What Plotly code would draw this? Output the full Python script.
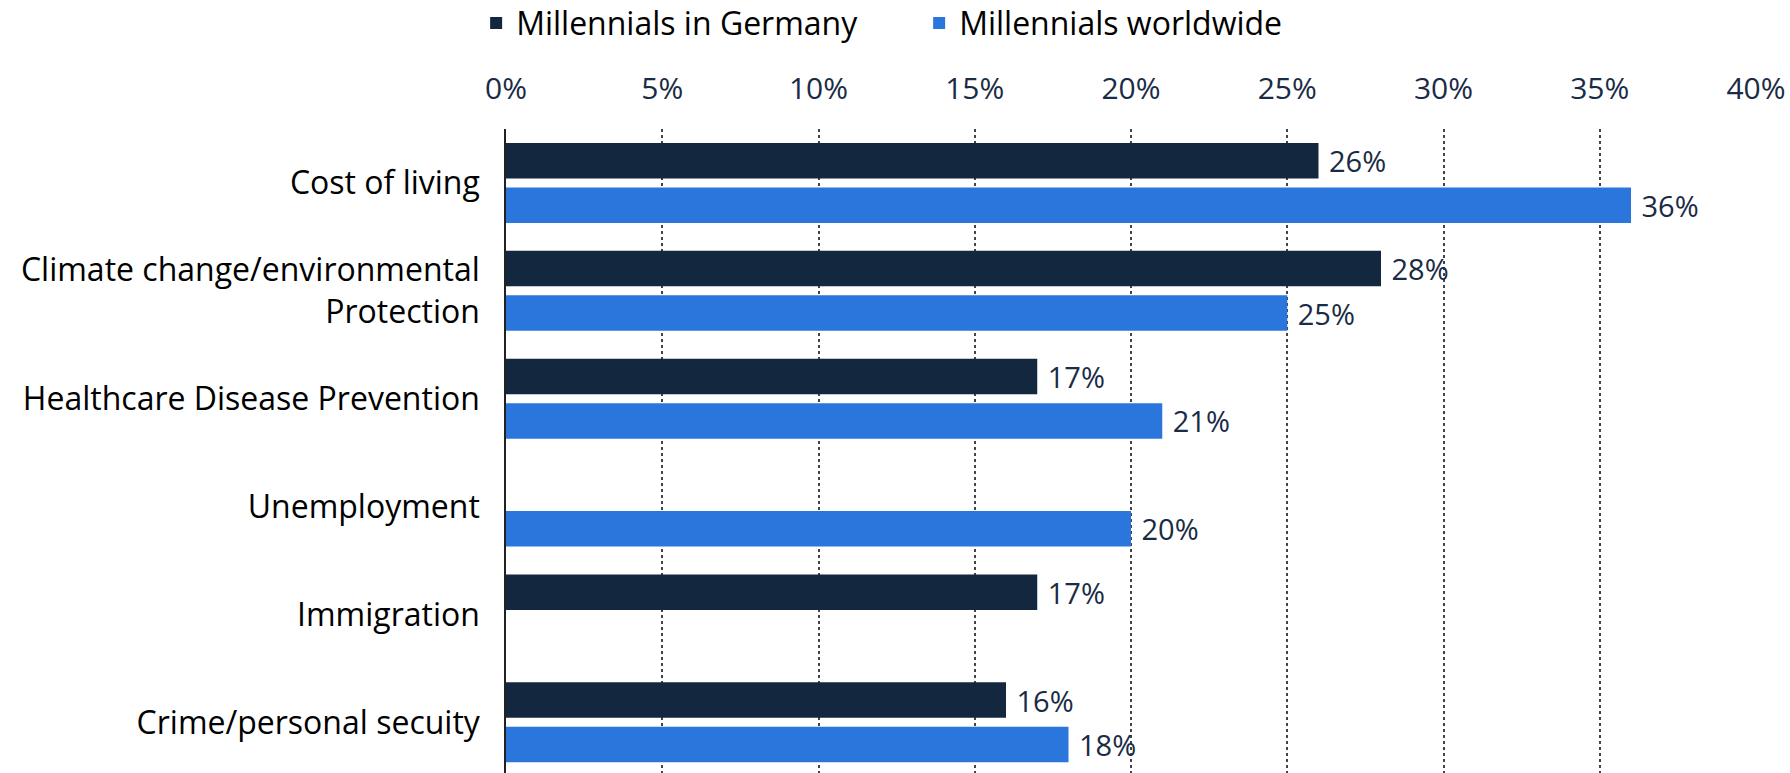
import plotly.graph_objects as go

# Survey categories (top to bottom) and share of respondents per group
categories = [
    "Cost of living",
    "Climate change/environmental<br>Protection",
    "Healthcare Disease Prevention",
    "Unemployment",
    "Immigration",
    "Crime/personal secuity",
]
germany = [26, 28, 17, None, 17, 16]
worldwide = [36, 25, 21, 20, None, 18]

series_names = ["Millennials in Germany", "Millennials worldwide"]
colors = ["#13273f", "#2a76dc"]

FONT = "Open Sans"
LABEL_COLOR = "#1a2b45"

fig = go.Figure()
for name, vals, col in zip(series_names, [germany, worldwide], colors):
    fig.add_trace(go.Bar(
        name=name,
        y=categories,
        x=vals,
        orientation="h",
        marker=dict(color=col, line=dict(width=0)),
        text=[("\u00a0%d%%" % v) if v is not None else "" for v in vals],
        textposition="outside",
        constraintext="none",
        textfont=dict(family=FONT, size=29, color=LABEL_COLOR),
        cliponaxis=False,
        hoverinfo="skip",
    ))

fig.update_layout(
    width=1790,
    height=773,
    margin=dict(l=506, r=34, t=129, b=0),
    paper_bgcolor="white",
    plot_bgcolor="white",
    barmode="group",
    bargap=0.175,
    bargroupgap=0.2,
    showlegend=True,
    legend=dict(
        orientation="h",
        x=0.266, xanchor="left", xref="container",
        y=0.970, yanchor="middle", yref="container",
        font=dict(family=FONT, size=32, color="#000000"),
        itemwidth=30,
        entrywidth=398,
        entrywidthmode="pixels",
        traceorder="normal",
        bgcolor="rgba(0,0,0,0)",
    ),
    xaxis=dict(
        side="top",
        range=[0, 40],
        tickvals=[0, 5, 10, 15, 20, 25, 30, 35, 40],
        ticktext=["0%", "5%", "10%", "15%", "20%", "25%", "30%", "35%", "40%"],
        tickfont=dict(family=FONT, size=30, color=LABEL_COLOR),
        ticks="",
        ticklabelstandoff=23,
        showgrid=True,
        gridcolor="#444444",
        griddash="dot",
        gridwidth=1.5,
        zeroline=False,
        showline=False,
    ),
    yaxis=dict(
        type="category",
        categoryorder="array",
        categoryarray=categories,
        range=[5.47, -0.5],
        tickfont=dict(family=FONT, size=32, color="#000000"),
        ticks="",
        ticklabelstandoff=18,
        showline=True,
        linecolor="#222222",
        linewidth=1.5,
        showgrid=False,
        zeroline=False,
    ),
)

fig.write_html("out.html")
